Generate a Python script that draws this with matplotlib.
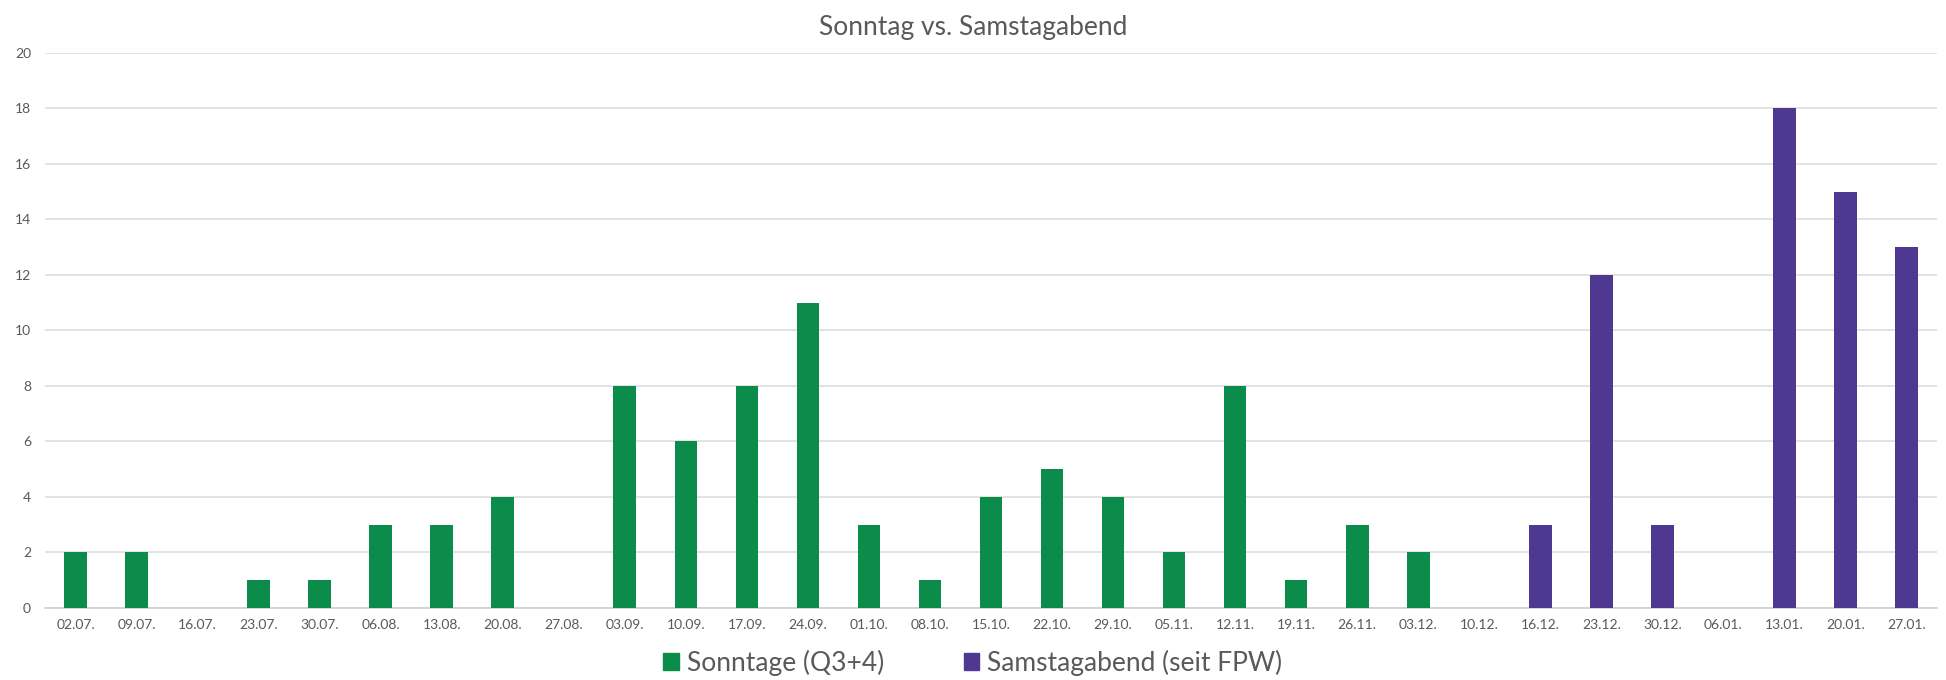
import matplotlib.pyplot as plt
import numpy as np
from matplotlib.patches import Patch

plt.rcParams["font.family"] = ["Lato", "DejaVu Sans"]

# data
dates = [
    "02.07.", "09.07.", "16.07.", "23.07.", "30.07.", "06.08.", "13.08.", "20.08.",
    "27.08.", "03.09.", "10.09.", "17.09.", "24.09.", "01.10.", "08.10.", "15.10.",
    "22.10.", "29.10.", "05.11.", "12.11.", "19.11.", "26.11.", "03.12.", "10.12.",
    "16.12.", "23.12.", "30.12.", "06.01.", "13.01.", "20.01.", "27.01.",
]
sonntage = [2, 2, 0, 1, 1, 3, 3, 4, 0, 8, 6, 8, 11, 3, 1, 4, 5, 4, 2, 8, 1, 3, 2, 0,
            0, 0, 0, 0, 0, 0, 0]
samstagabend = [0] * 24 + [3, 12, 3, 0, 18, 15, 13]

green = "#0b8c4b"
purple = "#4f3990"
grey_text = "#595959"

fig = plt.figure(figsize=(19.46, 6.8), dpi=100)
ax = fig.add_axes([0.0231, 0.1059, 0.9723, 0.8162])

x = np.arange(len(dates))
ax.bar(x, sonntage, width=0.37, color=green, zorder=3)
ax.bar(x, samstagabend, width=0.37, color=purple, zorder=3)

ax.set_xlim(-0.5, len(dates) - 0.5)
ax.set_ylim(0, 20)
ax.set_yticks(range(0, 21, 2))
ax.set_xticks(x)
ax.set_xticklabels(dates)
ax.grid(axis="y", color="#dedede", lw=1.2, zorder=0)
for s in ["top", "right", "left"]:
    ax.spines[s].set_visible(False)
ax.spines["bottom"].set_color("#d0d0d0")
ax.spines["bottom"].set_linewidth(1.2)
ax.tick_params(length=0, labelsize=10, colors=grey_text)
ax.tick_params(axis="y", pad=10)
ax.tick_params(axis="x", pad=8)

fig.text(0.5, 1 - 27 / 680, "Sonntag vs. Samstagabend", ha="center", va="center",
         fontsize=19, color=grey_text)

handles = [Patch(color=green, label="Sonntage (Q3+4)"),
           Patch(color=purple, label="Samstagabend (seit FPW)")]
fig.legend(handles=handles, loc="center", bbox_to_anchor=(0.5, 1 - 663 / 680), ncol=2,
           frameon=False, fontsize=19, labelcolor=grey_text, handlelength=0.6,
           handleheight=0.6, handletextpad=0.3, columnspacing=3.0)

fig.savefig("out.png", dpi=100, facecolor="white")
